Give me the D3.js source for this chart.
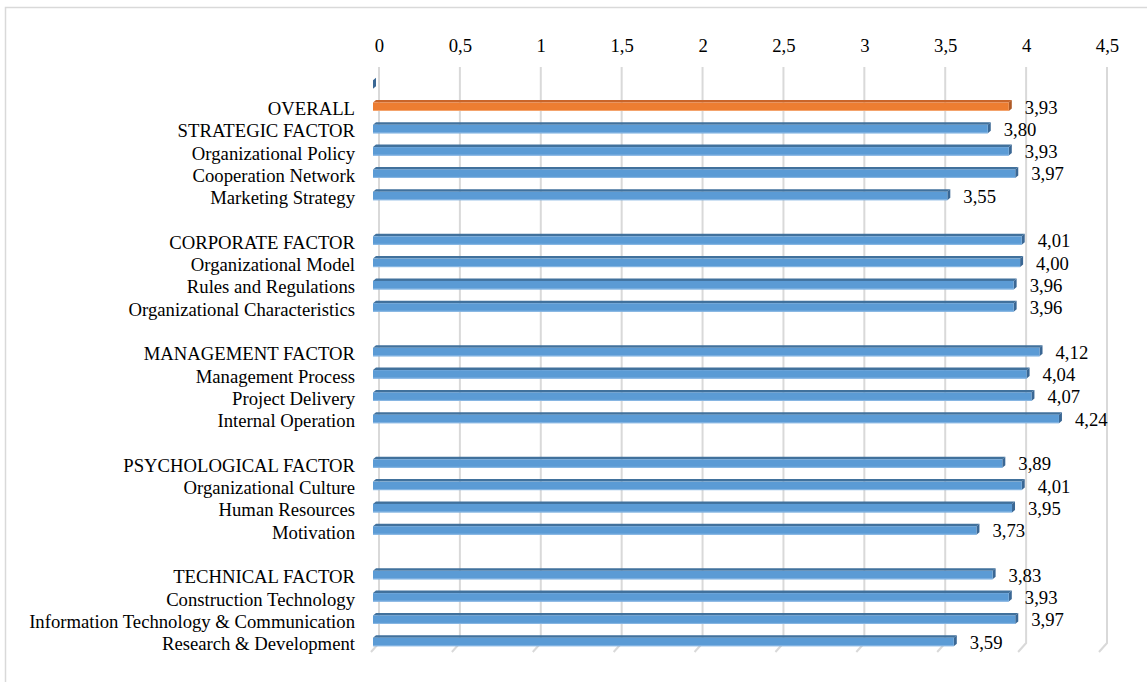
<!DOCTYPE html>
<html>
<head>
<meta charset="utf-8">
<script src="https://cdn.jsdelivr.net/npm/d3@7"></script>
<style>
  html, body { margin: 0; padding: 0; background: #fff; }
  svg { display: block; }
  text { font-family: "Liberation Serif", "Times New Roman", serif; fill: #000; }
</style>
</head>
<body>
<svg id="chart" width="1147" height="682"></svg>
<script>
const categories = ["", "OVERALL", "STRATEGIC FACTOR", "Organizational Policy", "Cooperation Network", "Marketing Strategy", "",
  "CORPORATE FACTOR", "Organizational Model", "Rules and Regulations", "Organizational Characteristics", "",
  "MANAGEMENT FACTOR", "Management Process", "Project Delivery", "Internal Operation", "",
  "PSYCHOLOGICAL FACTOR", "Organizational Culture", "Human Resources", "Motivation", "",
  "TECHNICAL FACTOR", "Construction Technology", "Information Technology & Communication", "Research & Development"];
const values = [0, 3.93, 3.80, 3.93, 3.97, 3.55, null,
  4.01, 4.00, 3.96, 3.96, null,
  4.12, 4.04, 4.07, 4.24, null,
  3.89, 4.01, 3.95, 3.73, null,
  3.83, 3.93, 3.97, 3.59];
const highlight = ["OVERALL"];
const tickValues = [0, 0.5, 1, 1.5, 2, 2.5, 3, 3.5, 4, 4.5];

const FS = 18.7;
const svg = d3.select("#chart");
const fmt = v => d3.format(".2f")(v).replace(".", ",");
const tickFmt = v => String(v).replace(".", ",");

// frame
svg.append("rect").attr("x", 5.5).attr("y", 7.5).attr("width", 1160).attr("height", 700)
  .attr("fill", "none").attr("stroke", "#d9d9d9").attr("stroke-width", 1.5);

const x = d3.scaleLinear().domain([0, 4.5]).range([379, 1107]);
const y = d3.scaleBand().domain(d3.range(categories.length)).range([71.05, 650.85]);

const gridTop = 67, gridBottom = 643, floorDx = -8, floorDy = 9;

// gridlines (back wall + floor)
const grid = svg.append("g");
tickValues.forEach(t => {
  const gx = x(t);
  grid.append("path")
    .attr("d", `M${gx},${gridTop}L${gx},${gridBottom}L${gx + floorDx},${gridBottom + floorDy}`)
    .attr("fill", "none").attr("stroke", "#d9d9d9").attr("stroke-width", 2);
});

// axis tick labels on top
const axis = d3.axisTop(x).tickValues(tickValues).tickFormat(tickFmt).tickSize(0).tickPadding(0);
const ag = svg.append("g").attr("transform", "translate(0,52)").call(axis);
ag.select(".domain").remove();
ag.selectAll("text").attr("font-size", FS).attr("font-family", "Liberation Serif, Times New Roman, serif")
  .attr("fill", "#000").attr("dy", 0).attr("dominant-baseline", "auto");

// bars (pseudo-3D)
const offX = -6, depthX = 3, depthY = -2.5, frontH = 8.5;
const bars = svg.append("g");
categories.forEach((c, i) => {
  const v = values[i];
  if (v === null) return;
  const isHi = highlight.includes(c);
  const front = isHi ? "#ed7d31" : "#5b9bd5";
  const topC = isHi ? "#c9652a" : "#41719c";
  const sideC = isHi ? "#ae5a26" : "#3a6794";
  const cy = y(i) + y.bandwidth() / 2;
  const x0 = x(0) + offX, x1 = x(v) + offX;
  const yTop = cy - 4.5 + 2.5; // front face top
  const yBot = yTop + frontH;
  // top face
  bars.append("path")
    .attr("d", `M${x0},${yTop}L${x0 + depthX},${yTop + depthY}L${x1 + depthX},${yTop + depthY}L${x1},${yTop}Z`)
    .attr("fill", topC);
  // side face
  bars.append("path")
    .attr("d", `M${x1},${yTop}L${x1 + depthX},${yTop + depthY}L${x1 + depthX},${yBot + depthY}L${x1},${yBot}Z`)
    .attr("fill", sideC);
  // front face
  if (x1 > x0) {
    bars.append("rect").attr("x", x0).attr("y", yTop).attr("width", x1 - x0).attr("height", frontH)
      .attr("fill", front);
    bars.append("line").attr("x1", x0).attr("x2", x1).attr("y1", yBot - 0.5).attr("y2", yBot - 0.5)
      .attr("stroke", isHi ? "#f4a36c" : "#8ab8e4").attr("stroke-width", 1);
  }
  // value label
  if (c !== "") {
    svg.append("text").attr("x", x(v) + offX + depthX + 13).attr("y", cy + 9)
      .attr("font-size", FS).text(fmt(v));
  }
});

// category labels
categories.forEach((c, i) => {
  if (!c) return;
  const cy = y(i) + y.bandwidth() / 2;
  svg.append("text").attr("x", 355).attr("y", cy + 10.5).attr("text-anchor", "end")
    .attr("font-size", FS).text(c);
});
</script>
</body>
</html>
